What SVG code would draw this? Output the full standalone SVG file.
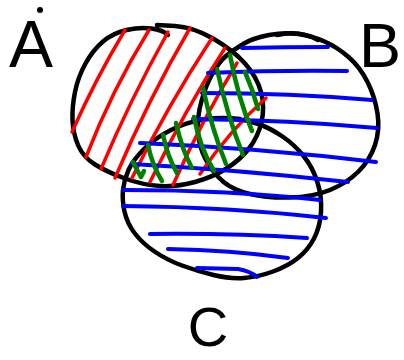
<svg xmlns="http://www.w3.org/2000/svg" width="404" height="360" viewBox="0 0 404 360">
<style>
.o{fill:none;stroke:#000;stroke-width:4.5;stroke-linecap:round;stroke-linejoin:round}
.r{fill:none;stroke:#ff0000;stroke-width:3.5;stroke-linecap:round}
.b{fill:none;stroke:#0000ff;stroke-width:4;stroke-linecap:round}
.g{fill:none;stroke:#008000;stroke-width:4.5;stroke-linecap:round;stroke-linejoin:round}
.t{font-family:"Liberation Sans",Arial,sans-serif;fill:#000;text-anchor:middle}
</style>
<rect width="404" height="360" fill="#fff"/>
<g id="outlines">
<path id="outlineA" class="o" d="M157,25 L175,26 Q193,27 213,38.5 Q233,50 245,63.5 Q257,77 261,92 Q265,107 261.5,122 Q258,137 249,148.5 Q240,160 226.5,168.5 Q213,177 195,182 Q177,187 160,186 Q143,185 125,178.5 Q107,172 95,164.5 Q83,157 78,145 Q73,133 72.5,120 Q72,107 75,92 Q78,77 85.5,63.5 Q93,50 103,41.5 Q113,33 126.5,30 Q140,27 151.5,28.5 Q163,30 168,35"/>
<path id="outlineB" class="o" d="M243,44 Q253,38 269,35 Q285,32 298.5,34 Q312,36 324.5,41.5 Q337,47 348.5,57 Q360,67 367.5,82 Q375,97 377.5,113.5 Q380,130 375,145 Q370,160 358.5,171.5 Q347,183 330,190 Q313,197 290,197.5 Q267,198 250,194 Q233,190 223,181.5 Q213,173 206,160 Q199,147 198,132 Q197,117 201.5,101 Q206,85 212.5,73.5 Q219,62 226,56 Q233,50 245,43"/>
<path class="o" d="M277,35 Q300,30 318,40"/>
<path id="outlineC" class="o" d="M233.5,118.5 Q247,120 258.5,124 Q270,128 282.5,136.5 Q295,145 304,156.5 Q313,168 317.5,182.5 Q322,197 321,212 Q320,227 314,238.5 Q308,250 298,258 Q288,266 273,271.5 Q258,277 244,278 Q230,279 213.5,275 Q197,271 182,265.5 Q167,260 154.5,251.5 Q142,243 134.5,233 Q127,223 124.5,211.5 Q122,200 123,190 Q124,180 128.5,170 Q133,160 144,149 Q155,138 171,130 Q187,122 203.5,119.5 Q220,117 240,119"/>
</g>
<g id="A">
<path class="r" d="M72,132 Q95,80 125,30"/>
<path class="r" d="M86,157 Q112,90 149,30"/>
<path class="r" d="M101,169 Q130,100 168,32"/>
<path class="r" d="M115,178 Q148,100 190,28"/>
<path class="r" d="M132,178 Q168,105 212,38"/>
<path class="r" d="M150,182 Q185,110 225,48"/>
<path class="r" d="M173,185 Q202,120 237,63"/>
<path class="r" d="M200,174 Q230,130 266,98"/>
<circle cx="40" cy="10" r="3" fill="#000"/>
<text class="t" x="31" y="67" font-size="66">A</text>
</g>
<g id="B">
<path class="b" d="M242,48 Q285,47 328,47"/>
<path class="b" d="M208,73 Q280,70 347,71"/>
<path class="b" d="M202,93 Q290,93 372,100"/>
<path class="b" d="M193,119 Q290,120 377,128"/>
<path class="b" d="M140,143 Q260,148 376,162"/>
<path class="b" d="M132,164 Q240,170 348,182"/>
<text class="t" x="380" y="67" font-size="63">B</text>
</g>
<g id="C">
<path class="b" d="M123,190 Q230,190 320,200"/>
<path class="b" d="M123,206 Q230,207 326,218"/>
<path class="b" d="M150,234 Q230,233 307,238"/>
<path class="b" d="M168,249 Q230,250 288,258"/>
<path class="b" d="M197,268 L238,269 Q250,271 257,277"/>
<text class="t" x="208" y="346" font-size="56">C</text>
</g>
<g id="intersection">
<path class="g" d="M133,162 Q138,172 141,177 L144,171"/>
<path class="g" d="M148,145 Q152,165 162,181"/>
<path class="g" d="M163,135 Q168,158 177,173"/>
<path class="g" d="M176,123 Q182,150 192,168"/>
<path class="g" d="M194,117 Q200,148 214,171"/>
<path class="g" d="M203,88 Q212,130 226,164"/>
<path class="g" d="M217,69 Q227,115 243,155"/>
<path class="g" d="M230,55 Q238,98 252,131"/>
<path class="g" d="M245,72 Q253,90 258,109"/>
</g>
</svg>
